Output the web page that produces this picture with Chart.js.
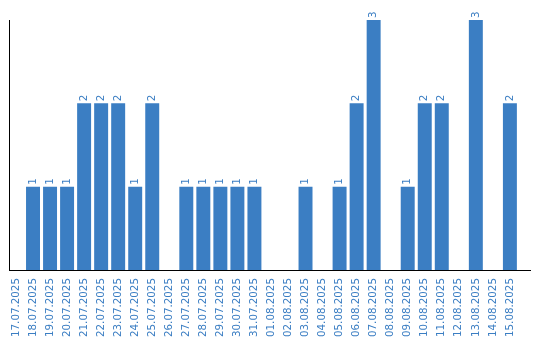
<!DOCTYPE html>
<html>
<head>
<meta charset="utf-8">
<script src="https://cdn.jsdelivr.net/npm/chart.js@4/dist/chart.umd.min.js"></script>
<style>
    html, body { margin: 0; padding: 0; background: #fff; }
    #wrap { width: 540px; height: 340px; }
</style>
</head>
<body>
<div id="wrap"><canvas id="chart"></canvas></div>
<script>
const dates = [
    '17.07.2025', '18.07.2025', '19.07.2025', '20.07.2025', '21.07.2025', '22.07.2025',
    '23.07.2025', '24.07.2025', '25.07.2025', '26.07.2025', '27.07.2025', '28.07.2025',
    '29.07.2025', '30.07.2025', '31.07.2025', '01.08.2025', '02.08.2025', '03.08.2025',
    '04.08.2025', '05.08.2025', '06.08.2025', '07.08.2025', '08.08.2025', '09.08.2025',
    '10.08.2025', '11.08.2025', '12.08.2025', '13.08.2025', '14.08.2025', '15.08.2025'
];
const counts = [0, 1, 1, 1, 2, 2, 2, 1, 2, 0, 1, 1, 1, 1, 1, 0, 0, 1, 0, 1, 2, 3, 0, 1, 2, 2, 0, 3, 0, 2];

const blue = '#3b7ec3';
const font = { family: 'DejaVu Sans', size: 10.3 };

// value labels standing on top of each bar, rotated like the dates
const barLabels = {
    id: 'barLabels',
    afterDatasetsDraw(chart) {
        const ctx = chart.ctx;
        const meta = chart.getDatasetMeta(0);
        ctx.save();
        ctx.font = font.size + 'px ' + font.family;
        ctx.fillStyle = blue;
        ctx.textAlign = 'left';
        ctx.textBaseline = 'middle';
        meta.data.forEach((bar, i) => {
            if (!counts[i]) return;
            ctx.save();
            ctx.translate(bar.x, bar.y - 2);
            ctx.rotate(-Math.PI / 2);
            ctx.fillText(String(counts[i]), 0, 0);
            ctx.restore();
        });
        ctx.restore();
    }
};

new Chart(document.querySelector('#chart'), {
    type: 'bar',
    data: {
        datasets: [{
            data: counts.map((v, i) => ({ x: i, y: v })),
            backgroundColor: blue,
            barPercentage: 0.82,
            categoryPercentage: 1
        }]
    },
    options: {
        responsive: true,
        maintainAspectRatio: false,
        animation: false,
        layout: { padding: { top: 20, right: 10, left: 1, bottom: 3 } },
        plugins: { legend: { display: false }, tooltip: { enabled: false } },
        scales: {
            x: {
                type: 'linear',
                offset: false,
                min: -0.41,
                max: 30.18,
                grid: { display: false, offset: false },
                border: { display: true, color: '#000', width: 1 },
                afterBuildTicks: (scale) => {
                    scale.ticks = scale.ticks.filter((t) => t.value >= 0 && t.value < dates.length);
                },
                ticks: {
                    stepSize: 1,
                    includeBounds: false,
                    autoSkip: false,
                    maxRotation: 90,
                    minRotation: 90,
                    padding: 0,
                    color: blue,
                    font: font,
                    callback: (v) => dates[v] || ''
                }
            },
            y: {
                min: 0,
                max: 3,
                grid: { display: false },
                border: { display: true, color: '#000', width: 1 },
                ticks: { display: false }
            }
        }
    },
    plugins: [barLabels]
});
</script>
</body>
</html>
